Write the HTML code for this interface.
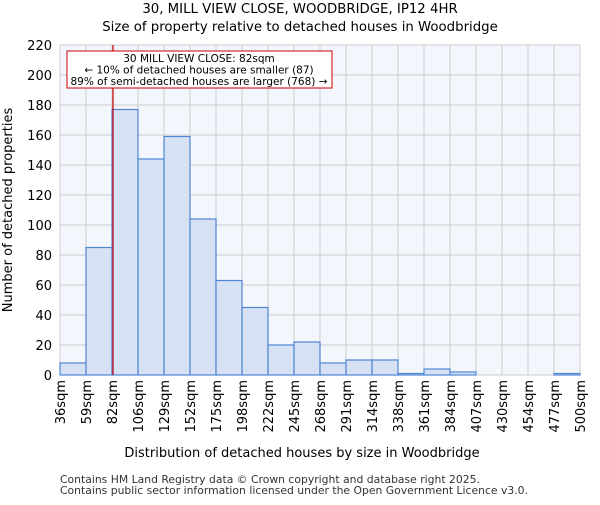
<!DOCTYPE html>
<html><head><meta charset="utf-8"><style>
body{margin:0;background:#fff;font-family:"Liberation Sans","DejaVu Sans",sans-serif}
</style></head><body>
<svg width="600" height="500" xmlns="http://www.w3.org/2000/svg" font-family="DejaVu Sans, Liberation Sans, sans-serif">
<text x="300" y="13" text-anchor="middle" font-size="13.3">30, MILL VIEW CLOSE, WOODBRIDGE, IP12 4HR</text>
<text x="300" y="31" text-anchor="middle" font-size="13.3">Size of property relative to detached houses in Woodbridge</text>
<rect x="60" y="45" width="520" height="330" fill="#f3f6fd"/>
<g id="grid"></g><g id="bars"></g><g id="axes"></g>
<line x1="113" y1="45" x2="113" y2="375" stroke="#cc0000" stroke-width="1.2"/>
<rect x="67" y="51" width="265" height="37" fill="#fff" stroke="#cc0000"/>
<text x="199" y="62" text-anchor="middle" font-size="10.5">30 MILL VIEW CLOSE: 82sqm</text>
<text x="199" y="73.5" text-anchor="middle" font-size="10.5">← 10% of detached houses are smaller (87)</text>
<text x="199" y="85" text-anchor="middle" font-size="10.5">89% of semi-detached houses are larger (768) →</text>
<text transform="translate(12,210) rotate(-90)" text-anchor="middle" font-size="13">Number of detached properties</text>
<text x="302" y="457" text-anchor="middle" font-size="13">Distribution of detached houses by size in Woodbridge</text>
<text x="60" y="483" font-size="10.8" fill="#333">Contains HM Land Registry data © Crown copyright and database right 2025.</text>
<text x="60" y="494" font-size="10.8" fill="#333">Contains public sector information licensed under the Open Government Licence v3.0.</text>
</svg>
<script>
const tickLabels=["36sqm","59sqm","82sqm","106sqm","129sqm","152sqm","175sqm","198sqm","222sqm","245sqm","268sqm","291sqm","314sqm","338sqm","361sqm","384sqm","407sqm","430sqm","454sqm","477sqm","500sqm"];
const counts=[8,85,177,144,159,104,63,45,20,22,8,10,10,1,4,2,0,0,0,1];
const yTicks=[0,20,40,60,80,100,120,140,160,180,200,220];
const NS="http://www.w3.org/2000/svg";
const x0=60,x1=580,y0=375,y1=45,yMax=220;
const bw=(x1-x0)/counts.length;
const xs=i=>x0+i*bw;
const ys=v=>y0-(v/yMax)*(y0-y1);
function mk(t,a,p){const e=document.createElementNS(NS,t);for(const k in a)e.setAttribute(k,a[k]);p.appendChild(e);return e;}
const g=document.getElementById('grid'),b=document.getElementById('bars'),ax=document.getElementById('axes');
yTicks.forEach(v=>{
 const l=mk('line',{x1:x0,x2:x1,y1:ys(v),y2:ys(v),stroke:'#cccccc'},g);
 
 
 const t=mk('text',{x:x0-8,y:ys(v)+5,'text-anchor':'end','font-size':13},ax);
 t.textContent=v;
 
 
});
tickLabels.forEach((s,i)=>{
 const x=xs(i);
 const l=mk('line',{x1:x,x2:x,y1:y1,y2:y0,stroke:'#cccccc'},g);
 
 
 const t=mk('text',{transform:`translate(${x+5},${y0+5}) rotate(-90)`,'text-anchor':'end','font-size':13},ax);
 t.textContent=s;
 
 
});
counts.forEach((v,i)=>{
 const r=mk('rect',{x:xs(i),y:ys(v),width:bw,height:y0-ys(v),fill:'#d6e1f3',stroke:'#4f86d4','stroke-width':1.2},b);
 
 
});
</script>
</body></html>
